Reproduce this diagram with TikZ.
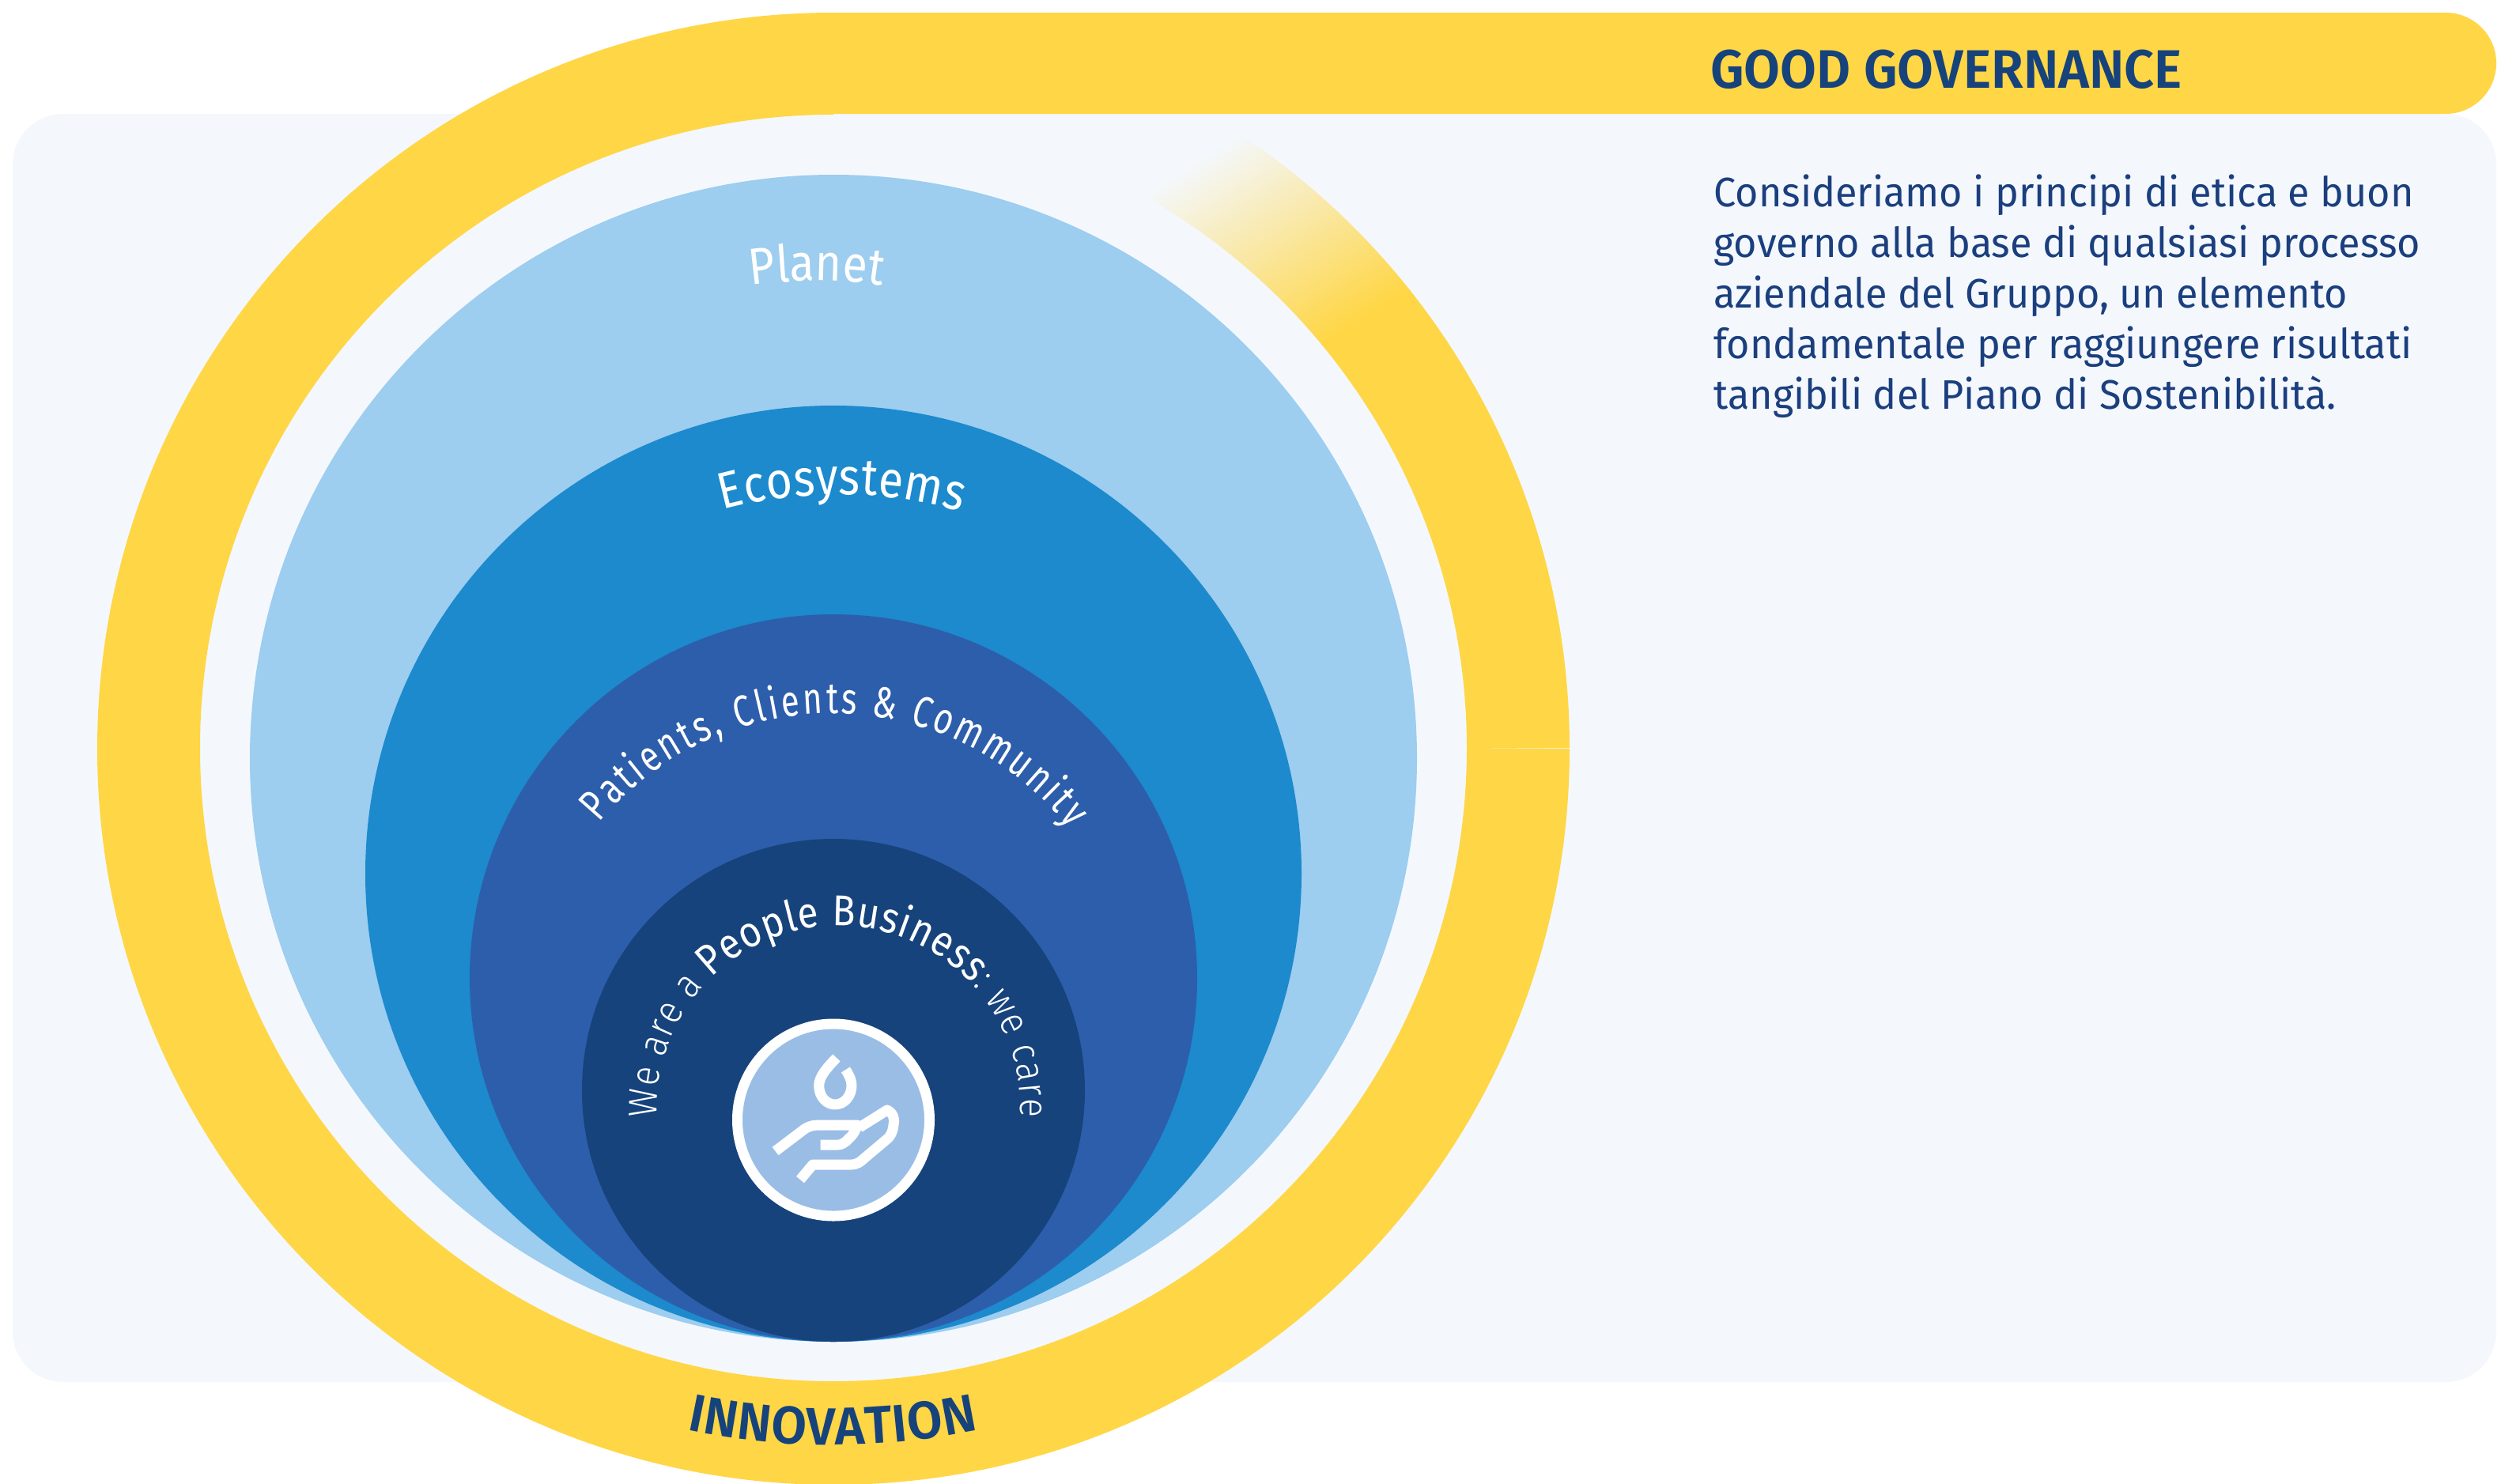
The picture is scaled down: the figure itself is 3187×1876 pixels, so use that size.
\documentclass[tikz,border=0pt]{standalone}
\usepackage{fontspec}
\usetikzlibrary{decorations.text}
\setmainfont{Fira Sans}
\newfontfamily\bodyfont[FakeStretch=0.965]{Fira Sans}
\newfontfamily\headfont[FakeStretch=0.97]{Fira Sans SemiBold}
\newfontfamily\lightfont[FakeStretch=0.88]{Fira Sans Light}
\newfontfamily\regfont[FakeStretch=0.88]{Fira Sans}
\newfontfamily\narrowfont[FakeStretch=0.76]{Fira Sans}
\definecolor{ringyellow}{HTML}{FFD645}
\definecolor{panelbg}{HTML}{F4F8FD}
\definecolor{planetblue}{HTML}{9DCDEF}
\definecolor{ecoblue}{HTML}{1C8ACD}
\definecolor{patientblue}{HTML}{2D5EAB}
\definecolor{peoplenavy}{HTML}{16437B}
\definecolor{iconblue}{HTML}{9ABDE5}
\definecolor{bodynavy}{HTML}{1B3F7E}
\tikzset{
  curvedtext/.style={decorate,decoration={text along path,text align=fit to path,text color=#1,raise=0pt}},
  iconline/.style={draw=white,line width=0.26cm,line join=round,line cap=butt},
}
\begin{document}
\begin{tikzpicture}[x=0.02cm,y=-0.02cm]
\useasboundingbox (0,0) rectangle (3187,1876);
\fill[white] (0,0) rectangle (3187,1876);
% panel
\fill[panelbg,rounded corners=1.28cm] (16,144) rectangle (3157,1748);
% fading part of the ring
\begin{scope}
  \clip (1985,946) arc[start angle=360,end angle=300,radius=931]
     -- ({1054+801*cos(300)},{946+801*sin(300)}) arc[start angle=300,end angle=360,radius=801] -- cycle;
  \begin{scope}[transform canvas={shift={(1729,400)},rotate=32.3}]
    \fill[ringyellow] (-700,-1) rectangle (700,800);
    \shade[bottom color=ringyellow,top color=panelbg] (-700,0) rectangle (700,-282);
  \end{scope}
\end{scope}
% ring
\fill[ringyellow] (1054,16) arc[start angle=270,end angle=0,radius=931]
   -- (1855,946) arc[start angle=0,end angle=270,radius=801] -- cycle;
% bar
\fill[ringyellow] (1046,16) -- (3093,16) arc[start angle=270,end angle=450,radius=64] -- (1046,144) -- cycle;
% circles
\fill[planetblue] (1054,959) circle (738);
\fill[ecoblue] (1054,1105) circle (592);
\fill[patientblue] (1054,1237) circle (460);
\fill[peoplenavy] (1054,1379) circle (318);
% icon
\filldraw[fill=iconblue,draw=white,line width=0.26cm] (1054,1416.5) circle (121.5);
\draw[iconline] (980.6,1456) -- (1017.5,1428) .. controls (1025,1423) and (1032,1423) .. (1038.5,1423) -- (1084,1423)
   .. controls (1082,1432) and (1076,1438) .. (1073.6,1440) .. controls (1068,1446) and (1064,1448) .. (1059.6,1448) -- (1037.5,1448);
\draw[iconline] (1087,1426) -- (1122,1404) .. controls (1130,1408) and (1132,1416) .. (1130,1423)
   .. controls (1129,1432) and (1126,1437) .. (1122.7,1440) -- (1093,1465) .. controls (1088,1470) and (1083,1473) .. (1077,1473) -- (1028,1473) -- (1012,1492);
\draw[iconline] (1058,1338) .. controls (1046,1350) and (1035.7,1362) .. (1035.7,1373)
   .. controls (1035.7,1388) and (1046,1397) .. (1056,1397) .. controls (1068,1397) and (1077,1386) .. (1077,1373) .. controls (1077,1366) and (1074,1360) .. (1069.4,1353);
% curved labels
\path[curvedtext=white,decoration={text={|\fontsize{37}{40}\regfont|Planet}}]
   (950,361) arc[start angle={270-8.4},end angle={270+8.4},radius=550];
\path[curvedtext=white,decoration={text={|\fontsize{37}{40}\regfont|Ecosystems}}]
   (914,645) arc[start angle={270-15.2},end angle={270+16},radius=560];
\path[curvedtext=white,decoration={text={|\fontsize{31.5}{36}\narrowfont|Patients, Clients {\&} Community}}]
   (758,1041) arc[start angle={270-50.5},end angle={270+52},radius=381];
\path[curvedtext=white,decoration={text={|\fontsize{29}{32}\lightfont|We are a |\fontsize{31}{34}\regfont|People Business|\fontsize{29}{32}\lightfont|: we care}}]
   (831,1413) arc[start angle=177,end angle=363,radius=230];
\path[curvedtext=peoplenavy,decoration={text={|\fontsize{38}{42}\headfont|INNOVATION}}]
   (868,1808) arc[start angle={90+12},end angle={90-12},radius=889];
% right-hand text
\node[anchor=base west,inner sep=0pt,text=peoplenavy,font=\fontsize{39}{44}\headfont] (title) at (2163,111) {GOOD GOVERNANCE};
\node[anchor=base west,inner sep=0pt,text=bodynavy] (body) at (2167,261.5)
  {\parbox[t]{1000\dimexpr0.02cm\relax}{\raggedright\fontsize{29.7}{36.4}\bodyfont
   Consideriamo i principi di etica e buon\\
   governo alla base di qualsiasi processo\\
   aziendale del Gruppo, un elemento\\
   fondamentale per raggiungere risultati\\
   tangibili del Piano di Sostenibilità.}};
\end{tikzpicture}
\end{document}
